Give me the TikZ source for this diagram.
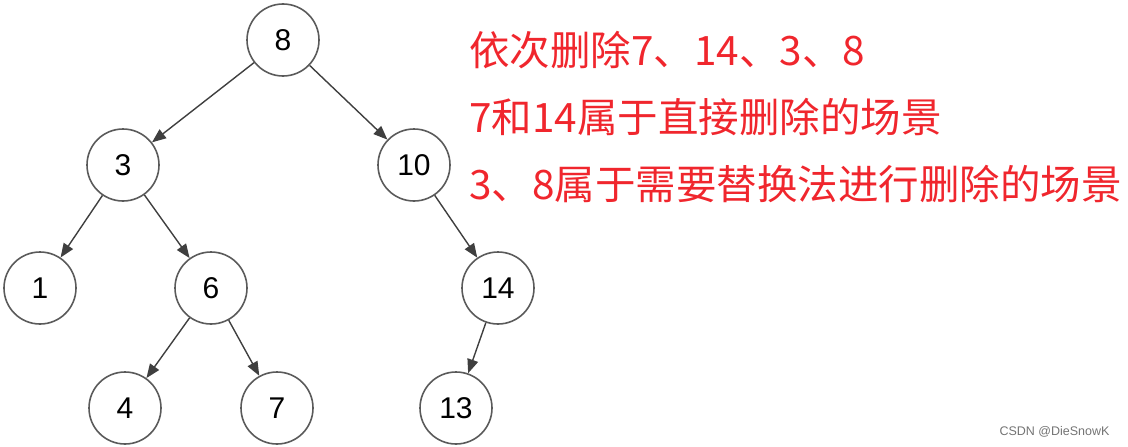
\documentclass[tikz,border=0pt]{standalone}
\usepackage{fontspec}
\setmainfont{Liberation Sans}
\newfontfamily\cjk{Noto Sans CJK SC}
\usepackage{xcolor}
\usepackage{tikz}
\usetikzlibrary{positioning,arrows.meta}
\definecolor{noteRed}{HTML}{F0262D}
\definecolor{ringGray}{HTML}{5A5A5A}
\tikzset{
  bst node/.style={circle, draw=ringGray, line width=1.6pt, minimum size=72pt, inner sep=0pt, font=\fontsize{30}{32}\selectfont},
  bst edge/.style={-{Triangle[length=14pt,width=11pt]}, draw=ringGray!70!black, line width=1.4pt},
  bst note/.style={anchor=west, text=noteRed, inner sep=0pt, font=\cjk\fontsize{40.5}{44}\selectfont}
}

\begin{document}
\begin{tikzpicture}[x=1pt, y=1pt, on grid]
    \useasboundingbox (0,0) rectangle (1128,-447);
    % Tree nodes
    \node [bst node] (n8) at (283,-40) {8};
    \node [bst node, below left=125pt and 160pt of n8] (n3) {3};
    \node [bst node, below right=125pt and 131pt of n8] (n10) {10};
    \node [bst node, below left=123pt and 83pt of n3] (n1) {1};
    \node [bst node, below right=123pt and 88pt of n3] (n6) {6};
    \node [bst node, below right=123pt and 84pt of n10] (n14) {14};
    \node [bst node, below left=120pt and 86pt of n6] (n4) {4};
    \node [bst node, below right=120pt and 66pt of n6] (n7) {7};
    \node [bst node, below left=120pt and 42pt of n14] (n13) {13};

    % Edges
    \draw [bst edge] (n8) -- (n3);
    \draw [bst edge] (n8) -- (n10);
    \draw [bst edge] (n3) -- (n1);
    \draw [bst edge] (n3) -- (n6);
    \draw [bst edge] (n10) -- (n14);
    \draw [bst edge] (n6) -- (n4);
    \draw [bst edge] (n6) -- (n7);
    \draw [bst edge] (n14) -- (n13);

    % Notes
    \node [bst note] (noteA) at (469,-50) {依次删除7、14、3、8};
    \node [bst note] (noteB) at ([yshift=-67pt]noteA.west) {7和14属于直接删除的场景};
    \node [bst note] (noteC) at ([yshift=-67pt]noteB.west) {3、8属于需要替换法进行删除的场景};

    % Watermark
    \node [anchor=east, text=black!55, font=\fontsize{12.5}{14}\selectfont] (mark) at (1113,-432) {CSDN @DieSnowK};
\end{tikzpicture}
\end{document}
